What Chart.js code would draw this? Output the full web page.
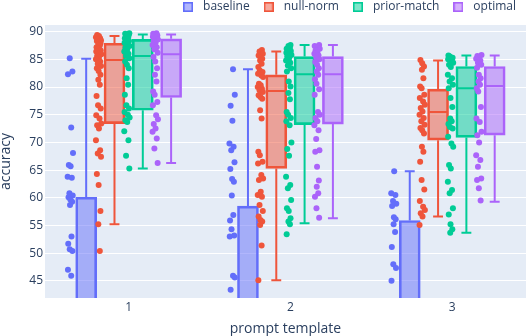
<!DOCTYPE html>
<html><head><meta charset="utf-8">
<script src="https://cdn.jsdelivr.net/npm/chart.js@4.4.1/dist/chart.umd.min.js"></script>
<style>html,body{margin:0;padding:0;background:#fff}#wrap{width:530px;height:336px;position:relative}</style>
</head><body><div id="wrap"><canvas id="c"></canvas></div>
<script>
// ---------- data ----------
const TEMPLATES = ['1', '2', '3'];
const SERIES = ['baseline', 'null-norm', 'prior-match', 'optimal'];
const Y_TICK_STEP = 5;

// box statistics per template: [lower whisker, q1, median, q3, upper whisker]
const baselineStats   = [[10.5, 24.0, 33.0, 60.1, 85.1], [10.0, 22.0, 31.0, 58.5, 83.2], [8.0, 20.0, 29.0, 55.9, 64.8]];
const nullNormStats   = [[55.2, 73.4, 84.9, 87.9, 89.2], [45.1, 65.3, 79.3, 82.2, 86.4], [56.6, 70.4, 75.5, 79.6, 84.8]];
const priorMatchStats = [[65.3, 75.8, 85.6, 88.6, 89.5], [55.4, 73.2, 82.3, 85.5, 87.6], [53.7, 70.9, 79.8, 83.7, 85.7]];
const optimalStats    = [[66.3, 78.1, 85.9, 88.7, 89.5], [56.3, 73.3, 82.3, 85.5, 87.6], [59.3, 71.3, 80.2, 83.7, 85.7]];

// individual accuracies (visible part) per template
const baselinePoints = [
  [85.2, 82.8, 82.3, 72.7, 68.1, 65.9, 65.7, 63.8, 63.6, 60.8, 60.4, 60.1, 59.7, 59.3, 58.7, 53.0, 51.7, 50.7, 50.4, 47.0, 45.9],
  [83.2, 78.6, 76.6, 73.9, 69.8, 69.2, 68.6, 66.4, 65.2, 63.4, 62.9, 60.4, 56.9, 55.9, 54.3, 53.2, 53.0, 45.9, 45.6, 43.4],
  [64.8, 60.8, 60.5, 59.4, 58.9, 58.5, 56.5, 56.1, 55.2, 53.8, 51.1, 48.0, 47.3, 45.0]
];
const nullNormPoints = [
  [89.4, 89.2, 89.0, 88.8, 88.6, 88.4, 88.3, 88.1, 87.9, 87.7, 87.5, 87.2, 86.9, 86.6, 86.4, 86.1, 85.9, 85.6, 85.3, 85.0, 84.6, 84.2, 83.8, 83.4, 82.9, 82.2, 81.3, 80.4, 78.4, 76.7, 76.1, 74.9, 74.3, 73.4, 73.1, 72.5, 70.4, 68.6, 68.0, 67.4, 64.3, 62.3, 57.6, 55.2, 50.4],
  [86.7, 86.4, 86.0, 85.7, 85.4, 85.1, 84.8, 84.2, 83.6, 83.0, 82.7, 82.4, 82.1, 81.8, 80.6, 80.3, 80.0, 79.7, 79.4, 79.1, 78.5, 78.2, 77.9, 75.8, 74.3, 68.3, 67.7, 66.5, 66.2, 64.1, 63.5, 63.2, 61.1, 60.5, 60.2, 58.7, 57.6, 56.6, 56.0, 55.7, 55.1, 51.4, 45.1],
  [84.9, 84.3, 83.7, 83.1, 81.6, 80.1, 79.8, 78.6, 78.0, 77.4, 76.8, 76.2, 75.6, 75.0, 74.4, 73.8, 73.2, 72.6, 72.2, 71.6, 69.2, 68.3, 66.5, 63.2, 61.5, 59.4, 58.4, 57.8, 57.2, 56.6, 55.1]
];
const priorMatchPoints = [
  [89.7, 89.6, 89.5, 89.4, 89.2, 89.0, 88.8, 88.6, 88.3, 88.0, 87.7, 87.4, 87.1, 86.8, 86.4, 86.0, 85.6, 85.2, 84.6, 84.0, 83.4, 81.6, 80.4, 78.6, 76.7, 76.1, 75.5, 75.0, 74.5, 74.0, 73.7, 72.0, 70.4, 67.6, 65.3],
  [87.6, 87.4, 87.1, 86.9, 86.7, 86.5, 86.2, 86.0, 85.8, 85.5, 85.2, 84.8, 84.4, 83.9, 83.4, 82.8, 81.0, 80.1, 78.9, 77.8, 75.5, 75.0, 74.4, 73.8, 73.1, 70.0, 68.8, 67.6, 63.8, 62.3, 61.7, 59.6, 58.1, 57.6, 56.3, 55.7, 55.2, 53.4],
  [85.7, 85.5, 85.3, 85.0, 84.7, 84.4, 84.0, 83.6, 82.2, 81.6, 81.0, 80.4, 79.8, 78.0, 76.4, 74.3, 73.8, 73.3, 72.8, 72.5, 71.0, 69.8, 69.2, 65.9, 65.3, 62.9, 61.4, 60.8, 58.1, 57.0, 55.2, 54.3, 53.7]
];
const optimalPoints = [
  [89.7, 89.6, 89.5, 89.3, 89.1, 88.9, 88.6, 88.3, 88.0, 87.6, 87.2, 86.8, 86.2, 85.4, 84.6, 83.4, 82.2, 81.0, 79.2, 78.6, 77.3, 76.7, 74.9, 74.2, 73.3, 72.5, 71.9, 70.7, 68.9, 66.3],
  [87.6, 87.4, 87.1, 86.9, 86.6, 86.3, 86.0, 85.7, 85.4, 85.0, 84.5, 84.0, 83.4, 82.8, 82.2, 81.4, 80.6, 79.6, 78.6, 75.5, 75.0, 74.4, 73.8, 73.1, 72.2, 70.6, 68.6, 68.3, 65.6, 63.1, 62.0, 60.8, 60.2, 58.1, 56.4],
  [85.8, 85.6, 85.4, 85.1, 84.8, 84.4, 84.0, 83.5, 82.2, 81.6, 81.0, 80.4, 79.8, 79.2, 76.4, 74.3, 73.7, 71.9, 71.3, 70.0, 67.7, 66.8, 65.6, 63.5, 63.2, 61.7, 59.5]
];

// ---------- styling / layout constants ----------
const COLORS = ['#636efa', '#EF553B', '#00cc96', '#ab63fa'];
const FILLS = ['rgba(99,110,250,0.5)', 'rgba(239,85,59,0.5)', 'rgba(0,204,150,0.5)', 'rgba(171,99,250,0.5)'];
const GROUP_OFFSETS = [-0.2625, -0.0875, 0.0875, 0.2625];
const PX = 1 / 163.3;              // one pixel in category units
const BOX_HALF = 10 * PX;
const CAP_HALF = 5 * PX;
const POINT_SHIFT = -16 * PX;
const JITTER = [-0.2, 0.7, -0.8, 0.3, 0.9, -0.5, 0.1, -0.9, 0.5, -0.3, 0.8, -0.6, 0.0, 0.6, -0.1, 0.4, -0.7];
const JITTER_PX = 3 * PX;
const TEXT = '#2a3f5f';

const allStats = [baselineStats, nullNormStats, priorMatchStats, optimalStats];
const allPoints = [baselinePoints, nullNormPoints, priorMatchPoints, optimalPoints];

Chart.defaults.font.family = "'Open Sans', verdana, arial, sans-serif";
Chart.defaults.color = TEXT;

// legend swatches (small filled squares with a border)
const SWATCHES = COLORS.map((col, s) => {
  const cv = document.createElement('canvas');
  cv.width = 10; cv.height = 10;
  const g = cv.getContext('2d');
  g.fillStyle = FILLS[s]; g.fillRect(0, 0, 10, 10);
  g.strokeStyle = col; g.lineWidth = 1.6; g.strokeRect(0.8, 0.8, 8.4, 8.4);
  return cv;
});

const boxSets = [], whiskerSets = [], medianSets = [], pointSets = [];
SERIES.forEach((name, s) => {
  const st = allStats[s];
  const boxes = [], whisk = [], meds = [], pts = [];
  TEMPLATES.forEach((t, c) => {
    const cx = c + GROUP_OFFSETS[s];
    const [lo, q1, med, q3, hi] = st[c];
    boxes.push({x: cx, y: [q1, q3]});
    whisk.push({x: cx, y: q3}, {x: cx, y: hi}, {x: cx, y: null},
               {x: cx - CAP_HALF, y: hi}, {x: cx + CAP_HALF, y: hi}, {x: cx, y: null},
               {x: cx, y: q1}, {x: cx, y: lo}, {x: cx, y: null},
               {x: cx - CAP_HALF, y: lo}, {x: cx + CAP_HALF, y: lo}, {x: cx, y: null});
    meds.push({x: cx - BOX_HALF, y: med}, {x: cx + BOX_HALF, y: med}, {x: cx, y: null});
    allPoints[s][c].forEach((v, i) => {
      pts.push({x: cx + POINT_SHIFT + JITTER[(i + s * 5 + c * 3) % JITTER.length] * JITTER_PX, y: v});
    });
  });
  boxSets.push({type: 'bar', label: name, data: boxes, backgroundColor: FILLS[s], borderColor: COLORS[s],
    borderWidth: 2, borderSkipped: false, grouped: false, maxBarThickness: 21, barPercentage: 1,
    categoryPercentage: 1, clip: 0, order: 2});
  whiskerSets.push({type: 'line', label: name + ' whiskers', data: whisk, borderColor: COLORS[s], borderWidth: 2,
    pointRadius: 0, showLine: true, spanGaps: false, fill: false, clip: 0, order: 3});
  medianSets.push({type: 'line', label: name + ' median', data: meds, borderColor: COLORS[s], borderWidth: 2,
    pointRadius: 0, showLine: true, spanGaps: false, fill: false, clip: 0, order: 1});
  pointSets.push({type: 'line', label: name + ' points', data: pts, showLine: false, pointRadius: 3,
    pointBorderWidth: 0, pointBackgroundColor: COLORS[s], borderColor: COLORS[s], clip: 4, order: 0});
});

const LEGEND_H = 25, LEGEND_DX = -4, LEGEND_PAD = 10;
const bgPlugin = {
  id: 'plotBg',
  beforeDraw(chart) {
    const {ctx, chartArea: a} = chart;
    ctx.save();
    ctx.fillStyle = '#ffffff';
    ctx.fillRect(0, 0, chart.width, chart.height);
    ctx.fillStyle = '#E5ECF6';
    ctx.fillRect(a.left, a.top, a.right - a.left, a.bottom - a.top);
    ctx.restore();
  }
};
const legendTweak = {
  id: 'legendTweak',
  beforeLayout(chart) {
    const lg = chart.legend;
    if (lg && !lg._tweaked) {
      lg._tweaked = true;
      const f = lg.fit;
      lg.fit = function () { f.call(this); this.height = LEGEND_H; };
      const d = lg.draw;
      lg.draw = function () {
        const ctx = this.ctx; ctx.save(); ctx.translate(LEGEND_DX, 1 - LEGEND_PAD);
        d.apply(this, arguments); ctx.restore();
      };
    }
  }
};

new Chart(document.getElementById('c'), {
  type: 'bar',
  data: {datasets: [...boxSets, ...whiskerSets, ...medianSets, ...pointSets]},
  options: {
    responsive: true, maintainAspectRatio: false, animation: false,
    events: [],
    layout: {padding: 0},
    plugins: {
      tooltip: {enabled: false},
      legend: {
        position: 'top', align: 'end',
        labels: {
          usePointStyle: true, pointStyleWidth: 18, boxHeight: 10,
          padding: LEGEND_PAD, color: TEXT, font: {size: 12},
          filter: (item) => item.datasetIndex < SERIES.length,
          generateLabels: (chart) => Chart.defaults.plugins.legend.labels.generateLabels(chart)
            .map((it) => Object.assign(it, {pointStyle: SWATCHES[it.datasetIndex] || it.pointStyle}))
        }
      }
    },
    scales: {
      x: {
        type: 'linear', min: -0.517, max: 2.456, offset: false,
        grid: {display: false, drawTicks: false, offset: false},
        border: {display: false},
        ticks: {stepSize: 1, includeBounds: false, padding: 2, font: {size: 12}, color: TEXT,
          callback: (v) => (Number.isInteger(v) && TEMPLATES[v] !== undefined) ? TEMPLATES[v] : ''},
        title: {display: true, text: 'prompt template', color: TEXT, font: {size: 14, lineHeight: 1.0}, padding: 0},
        afterFit: (s) => { s.height = 38; }
      },
      y: {
        min: 41.9, max: 91.2,
        grid: {color: '#ffffff', lineWidth: 1, drawTicks: false},
        border: {display: false},
        ticks: {stepSize: Y_TICK_STEP, includeBounds: false, padding: 2, font: {size: 12}, color: TEXT},
        title: {display: true, text: 'accuracy', color: TEXT, font: {size: 14, lineHeight: 0.85}, padding: 0},
        afterFit: (s) => { s.width = 45; }
      }
    }
  },
  plugins: [bgPlugin, legendTweak]
});
</script></body></html>
